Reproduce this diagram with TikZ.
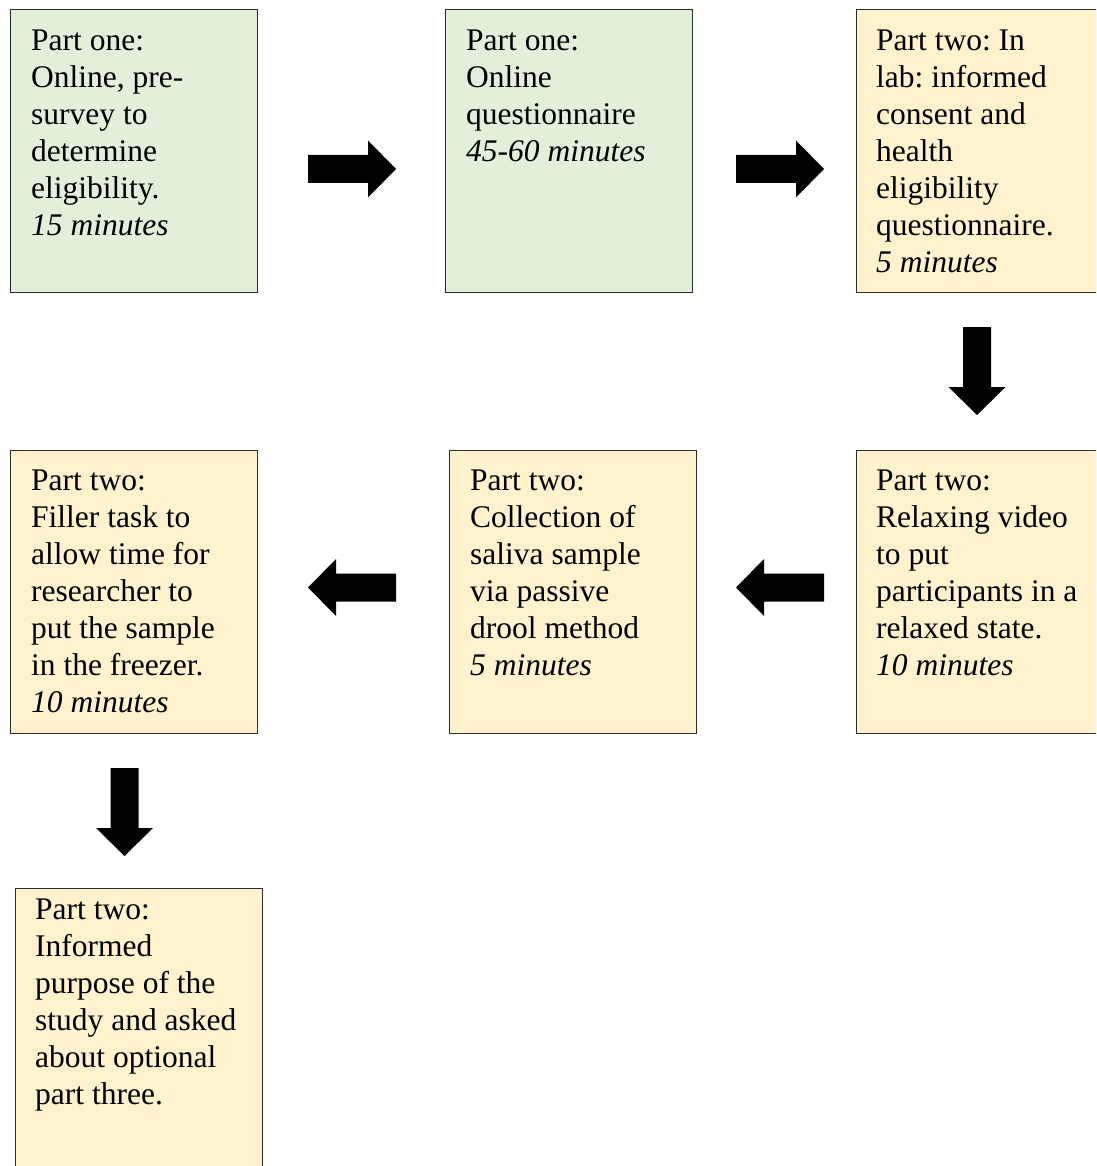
\documentclass[tikz,border=0pt]{standalone}
\usepackage{fontspec}
\setmainfont{Liberation Serif}
\usetikzlibrary{calc}
\definecolor{boxgreen}{RGB}{226,239,218}
\definecolor{boxyellow}{RGB}{255,242,204}
\definecolor{boxline}{RGB}{45,45,45}
\frenchspacing
\begin{document}
\begin{tikzpicture}[x=1pt,y=-1pt,
  flowbox/.style={draw=boxline, line width=1.1pt, rectangle, inner sep=0pt,
    minimum width=247pt, minimum height=283pt, anchor=north west},
  onlinebox/.style={flowbox, fill=boxgreen},
  labbox/.style={flowbox, fill=boxyellow},
  boxtext/.style={anchor=north west, inner sep=0pt, align=left,
    font=\fontsize{31.5}{37}\selectfont},
  blockarrow/.pic={\fill[black] (0,-14) -- (60,-14) -- (60,-28.5) -- (88,0)
    -- (60,28.5) -- (60,14) -- (0,14) -- cycle;}
]
\useasboundingbox (0,0) rectangle (1096,1166);
\clip (0,0) rectangle (1096,1166);

% first row
\node[onlinebox] (b1) at (10,9) {};
\node[onlinebox] (b2) at (445,9) {};
\node[labbox, minimum width=260pt] (b3) at (856,9) {};
% second row
\node[labbox] (b4) at (10,450) {};
\node[labbox] (b5) at (449,450) {};
\node[labbox, minimum width=260pt] (b6) at (856,450) {};
% last step
\node[labbox, minimum height=300pt] (b7) at (15,888) {};

\node[boxtext] (t1) at ($(b1.north west)+(21,17)$)
  {\rule{0pt}{24pt}Part one:\\Online, pre-\\survey to\\determine\\eligibility.\\\textit{15 minutes}};
\node[boxtext] (t2) at ($(b2.north west)+(21,17)$)
  {\rule{0pt}{24pt}Part one:\\Online\\questionnaire\\\textit{45-60 minutes}};
\node[boxtext] (t3) at ($(b3.north west)+(20,17)$)
  {\rule{0pt}{24pt}Part two: In\\lab: informed\\consent and\\health\\eligibility\\questionnaire.\\\textit{5 minutes}};
\node[boxtext] (t4) at ($(b4.north west)+(21,16)$)
  {\rule{0pt}{24pt}Part two:\\Filler task to\\allow time for\\researcher to\\put the sample\\in the freezer.\\\textit{10 minutes}};
\node[boxtext] (t5) at ($(b5.north west)+(21,16)$)
  {\rule{0pt}{24pt}Part two:\\Collection of\\saliva sample\\via passive\\drool method\\\textit{5 minutes}};
\node[boxtext] (t6) at ($(b6.north west)+(20,16)$)
  {\rule{0pt}{24pt}Part two:\\Relaxing video\\to put\\participants in a\\relaxed state.\\\textit{10 minutes}};
\node[boxtext] (t7) at ($(b7.north west)+(20,7)$)
  {\rule{0pt}{24pt}Part two:\\Informed\\purpose of the\\study and asked\\about optional\\part three.};

% block arrows between the steps
\pic at (308,169) {blockarrow};
\pic at (736,169) {blockarrow};
\pic[rotate=-90] at (977,327) {blockarrow};
\pic[rotate=180] at (824,587.5) {blockarrow};
\pic[rotate=180] at (396,587.5) {blockarrow};
\pic[rotate=-90] at (124.5,768) {blockarrow};
\end{tikzpicture}
\end{document}
